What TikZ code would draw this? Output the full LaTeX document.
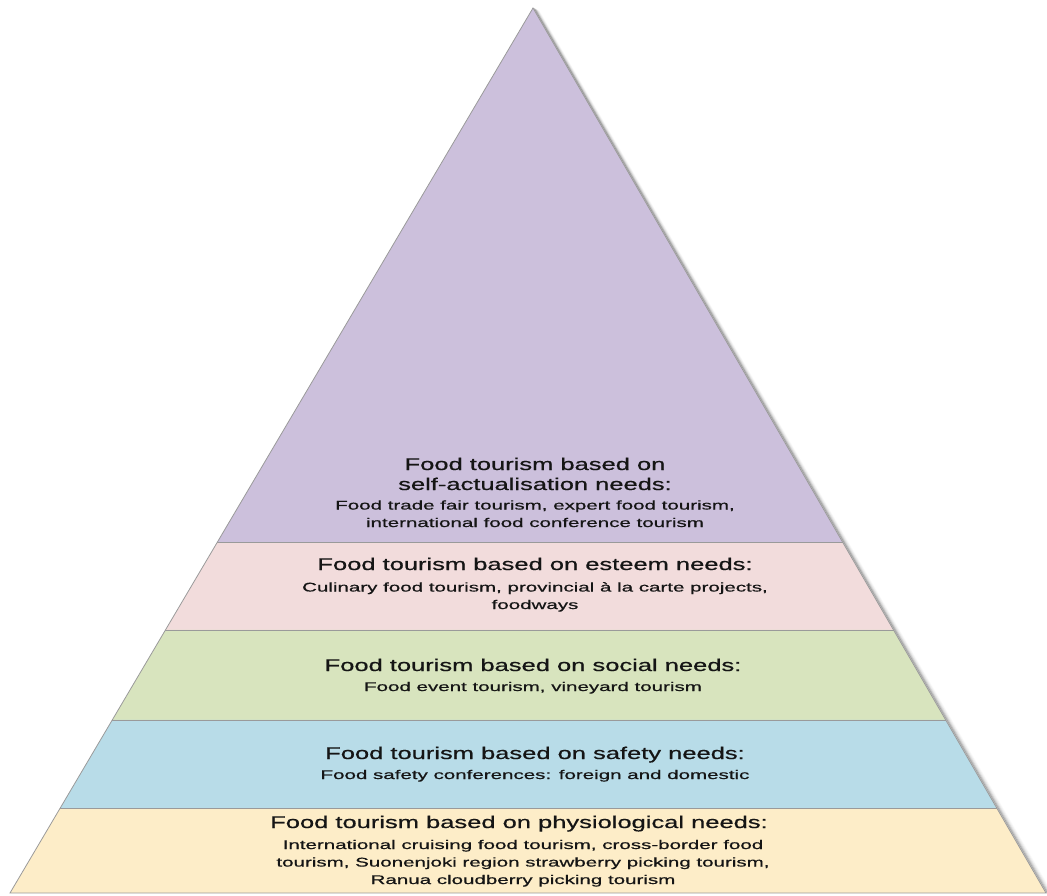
\documentclass[tikz,border=0pt]{standalone}
\usepackage{fontspec}
\setmainfont{Liberation Sans}[FakeBold=0.5]
\newfontfamily\medsans{Liberation Sans}[FakeBold=0.5]
\usepackage{graphicx}
\usetikzlibrary{calc}

\definecolor{lvlfive}{HTML}{CCC0DC}
\definecolor{lvlfour}{HTML}{F2DCDC}
\definecolor{lvlthree}{HTML}{D8E4BE}
\definecolor{lvltwo}{HTML}{B8DCE8}
\definecolor{lvlone}{HTML}{FDEDC8}
\definecolor{edgegray}{HTML}{9A9A9A}
\definecolor{ink}{HTML}{151515}

% wide set lines
\newcommand\ttl[1]{\scalebox{1.5}[1]{#1}}
\newcommand\sbl[1]{\scalebox{1.63}[1]{#1}}

\tikzset{
  band/.style={draw=edgegray, line width=0.8pt},
  % base anchor sits on the last line of a node
  headtext/.style={anchor=base, align=center, text=ink, inner sep=0pt,
    font=\medsans\fontsize{17}{20}\selectfont},
  bodytext/.style={anchor=base, align=center, text=ink, inner sep=0pt,
    font=\medsans\fontsize{12.6}{17.5}\selectfont},
}

\begin{document}
\begin{tikzpicture}[x=1pt,y=-1pt]
\useasboundingbox (0,0) rectangle (1047,895);

\coordinate (top) at (533,8);
\coordinate (bl) at (10,893);
\coordinate (br) at (1046,893);
\foreach \n/\f in {4/0.6034, 3/0.7028, 2/0.8045, 1/0.9040}{
  \coordinate (L\n) at ($(top)!\f!(bl)$);
  \coordinate (R\n) at ($(top)!\f!(br)$);
}

% soft shadow along the right flank
\foreach \d/\o in {1/0.26, 2/0.18, 3/0.12, 4/0.07, 5/0.04, 6/0.02}{
  \draw[black, opacity=\o, line width=1.2pt]
    ([xshift=\d pt, yshift=-0.5*\d pt]top) -- ([xshift=\d pt]br);
}

% the five levels
\fill[lvlfive] (top) -- (R4) -- (L4) -- cycle;
\fill[lvlfour] (L4) -- (R4) -- (R3) -- (L3) -- cycle;
\fill[lvlthree] (L3) -- (R3) -- (R2) -- (L2) -- cycle;
\fill[lvltwo] (L2) -- (R2) -- (R1) -- (L1) -- cycle;
\fill[lvlone] (L1) -- (R1) -- (br) -- (bl) -- cycle;

\foreach \n in {1,...,4}{ \draw[band] (L\n) -- (R\n); }
\draw[band] (bl) -- (top) -- (br) -- cycle;

% level texts
\node[headtext] (t5) at (535,490) {\ttl{Food tourism based on}\\\ttl{self-actualisation needs:}};
\node[bodytext] (s5) at (535,527) {\sbl{Food trade fair tourism, expert food tourism,}\\\sbl{international food conference tourism}};

\node[headtext] (t4) at (535,570) {\ttl{Food tourism based on esteem needs:}};
\node[bodytext] (s4) at (535,609) {\sbl{Culinary food tourism, provincial à la carte projects,}\\\sbl{foodways}};

\node[headtext] (t3) at (533,671) {\ttl{Food tourism based on social needs:}};
\node[bodytext] (s3) at (533,691) {\sbl{Food event tourism, vineyard tourism}};

\node[headtext] (t2) at (535,759) {\ttl{Food tourism based on safety needs:}};
\node[bodytext] (s2) at (535,779) {\sbl{Food safety conferences: foreign and domestic}};

\node[headtext] (t1) at (519,828) {\ttl{Food tourism based on physiological needs:}};
\node[bodytext] (s1) at (523,884) {\sbl{International cruising food tourism, cross-border food}\\\sbl{tourism, Suonenjoki region strawberry picking tourism,}\\\sbl{Ranua cloudberry picking tourism}};
\end{tikzpicture}
\end{document}
